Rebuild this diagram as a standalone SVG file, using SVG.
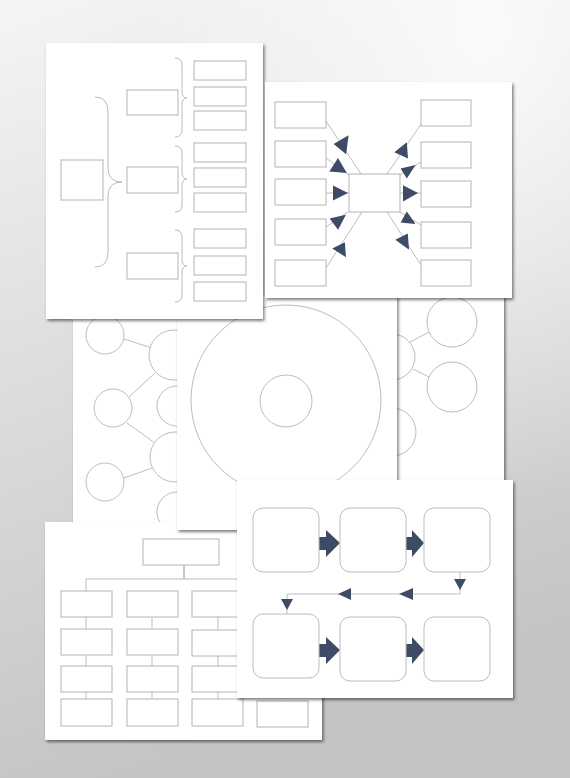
<svg xmlns="http://www.w3.org/2000/svg" width="570" height="778" viewBox="0 0 570 778">
<defs>
<linearGradient id="bg" x1="0" y1="0" x2="0.25" y2="1">
<stop offset="0" stop-color="#f5f5f5"/>
<stop offset="0.45" stop-color="#dedede"/>
<stop offset="1" stop-color="#c4c4c4"/>
</linearGradient>
<radialGradient id="sheen" cx="0.85" cy="0.05" r="0.6">
<stop offset="0" stop-color="#ffffff" stop-opacity="0.8"/>
<stop offset="1" stop-color="#ffffff" stop-opacity="0"/>
</radialGradient>
<filter id="shadow" x="-10%" y="-10%" width="120%" height="120%">
<feDropShadow dx="1.5" dy="2" stdDeviation="1.6" flood-color="#000" flood-opacity="0.5"/>
</filter>
<style>
.sheet{fill:#fff;filter:url(#shadow)}
.box{fill:#fff;stroke:#b4b4b4;stroke-width:1}
.rbox{fill:#fff;stroke:#bdbdbd;stroke-width:1}
.ln{fill:none;stroke:#bdbdbd;stroke-width:1}
.br{fill:none;stroke:#bcbcbc;stroke-width:1}
.ah{fill:#3e4b65}
.cir{fill:#fff;stroke:#bdbdbd;stroke-width:1}
</style>
</defs>
<rect width="570" height="778" fill="url(#bg)"/>
<rect width="570" height="778" fill="url(#sheen)"/>

<!-- Sheet C: left bubble map -->
<g id="sheet-bubbles-left">
<rect class="sheet" x="73" y="300" width="110" height="222"/>
<g id="bubbles-left-connectors">
<line class="ln" x1="124" y1="339" x2="152" y2="348"/>
<line class="ln" x1="155" y1="373" x2="129" y2="397"/>
<line class="ln" x1="127" y1="423" x2="155" y2="443"/>
<line class="ln" x1="124" y1="478" x2="152" y2="468"/>
</g>
<circle class="cir" cx="105" cy="335" r="19"/>
<circle class="cir" cx="174" cy="355" r="25"/>
<circle class="cir" cx="113" cy="408" r="19"/>
<circle class="cir" cx="177" cy="406" r="20"/>
<circle class="cir" cx="175" cy="457" r="25"/>
<circle class="cir" cx="105" cy="482" r="19"/>
<circle class="cir" cx="177" cy="512" r="20"/>
</g>

<!-- Sheet E: right bubble map -->
<g id="sheet-bubbles-right">
<rect class="sheet" x="397" y="295" width="107" height="195"/>
<g id="bubbles-right-connectors">
<line class="ln" x1="410" y1="342" x2="429" y2="332"/>
<line class="ln" x1="413" y1="369" x2="429" y2="377"/>
</g>
<circle class="cir" cx="392" cy="357" r="23"/>
<circle class="cir" cx="392" cy="432" r="24"/>
<circle class="cir" cx="452" cy="322" r="25"/>
<circle class="cir" cx="452" cy="387" r="25"/>
</g>

<!-- Sheet G: org chart -->
<g id="sheet-orgchart">
<rect class="sheet" x="45" y="522" width="277" height="218"/>
<g id="orgchart-connectors">
<line class="ln" x1="184" y1="565" x2="184" y2="579" style="stroke:#8a8a8a"/>
<polyline class="ln" points="86,591 86,579 300,579"/>
<line class="ln" x1="86" y1="617" x2="86" y2="629"/>
<line class="ln" x1="86" y1="655" x2="86" y2="666"/>
<line class="ln" x1="86" y1="692" x2="86" y2="699"/>
<line class="ln" x1="152" y1="617" x2="152" y2="629"/>
<line class="ln" x1="152" y1="655" x2="152" y2="666"/>
<line class="ln" x1="152" y1="692" x2="152" y2="699"/>
<line class="ln" x1="218" y1="617" x2="218" y2="629"/>
<line class="ln" x1="218" y1="655" x2="218" y2="666"/>
<line class="ln" x1="218" y1="692" x2="218" y2="699"/>
<line class="ln" x1="283" y1="690" x2="283" y2="699"/>
</g>
<rect id="org-top" class="box" x="143" y="539" width="76" height="26"/>
<rect id="org-c1r1" class="box" x="61" y="591" width="51" height="26"/>
<rect id="org-c1r2" class="box" x="61" y="629" width="51" height="26"/>
<rect id="org-c1r3" class="box" x="61" y="666" width="51" height="26"/>
<rect id="org-c1r4" class="box" x="61" y="699" width="51" height="27"/>
<rect id="org-c2r1" class="box" x="127" y="591" width="51" height="26"/>
<rect id="org-c2r2" class="box" x="127" y="629" width="51" height="26"/>
<rect id="org-c2r3" class="box" x="127" y="666" width="51" height="26"/>
<rect id="org-c2r4" class="box" x="127" y="699" width="51" height="27"/>
<rect id="org-c3r1" class="box" x="192" y="591" width="51" height="26"/>
<rect id="org-c3r2" class="box" x="192" y="630" width="51" height="26"/>
<rect id="org-c3r3" class="box" x="192" y="666" width="51" height="26"/>
<rect id="org-c3r4" class="box" x="192" y="699" width="51" height="27"/>
<rect id="org-c4r4" class="box" x="257" y="701" width="51" height="26"/>
</g>

<!-- Sheet D: concentric circles -->
<g id="sheet-circles">
<rect class="sheet" x="177" y="295" width="220" height="235"/>
<circle id="outer-circle" class="cir" cx="286" cy="400" r="95"/>
<circle id="inner-circle" class="cir" cx="286" cy="401" r="26"/>
</g>

<!-- Sheet A: bracket diagram -->
<g id="sheet-brackets">
<rect class="sheet" x="46" y="43" width="217" height="276"/>
<g id="brackets-connectors">
<path class="br" d="M95,97 Q108,97 108,112 L108,168 Q108,182 122,182 Q108,182 108,196 L108,252 Q108,267 95,267"/>
<path class="br" d="M175,58 Q182,58 182,65 L182,91 Q182,98 187,98 Q182,98 182,105 L182,130 Q182,137 175,137"/>
<path class="br" d="M175,146 Q182,146 182,153 L182,172 Q182,179 187,179 Q182,179 182,186 L182,205 Q182,212 175,212"/>
<path class="br" d="M175,230 Q182,230 182,237 L182,259 Q182,266 187,266 Q182,266 182,273 L182,295 Q182,302 175,302"/>
</g>
<rect id="br-root" class="box" x="61" y="160" width="42" height="40"/>
<rect id="br-mid1" class="box" x="127" y="90" width="51" height="25"/>
<rect id="br-mid2" class="box" x="127" y="167" width="51" height="26"/>
<rect id="br-mid3" class="box" x="127" y="253" width="51" height="26"/>
<rect id="br-r1" class="box" x="194" y="61" width="52" height="19"/>
<rect id="br-r2" class="box" x="194" y="87" width="52" height="19"/>
<rect id="br-r3" class="box" x="194" y="111" width="52" height="19"/>
<rect id="br-r4" class="box" x="194" y="143" width="52" height="19"/>
<rect id="br-r5" class="box" x="194" y="168" width="52" height="19"/>
<rect id="br-r6" class="box" x="194" y="193" width="52" height="19"/>
<rect id="br-r7" class="box" x="194" y="229" width="52" height="19"/>
<rect id="br-r8" class="box" x="194" y="256" width="52" height="19"/>
<rect id="br-r9" class="box" x="194" y="282" width="52" height="19"/>
</g>

<!-- Sheet B: spider diagram -->
<g id="sheet-spider">
<rect class="sheet" x="265" y="82" width="247" height="216"/>
<g id="spider-connectors">
<line class="ln" x1="326" y1="121" x2="361" y2="174"/>
<line class="ln" x1="326" y1="158" x2="349" y2="175"/>
<line class="ln" x1="326" y1="193" x2="349" y2="193"/>
<line class="ln" x1="326" y1="227" x2="348" y2="212"/>
<line class="ln" x1="326" y1="268" x2="362" y2="212"/>
<line class="ln" x1="421" y1="124" x2="387" y2="174"/>
<line class="ln" x1="421" y1="162" x2="400" y2="175"/>
<line class="ln" x1="400" y1="193" x2="421" y2="193"/>
<line class="ln" x1="400" y1="212" x2="421" y2="225"/>
<line class="ln" x1="387" y1="212" x2="421" y2="265"/>
<polygon class="ah" points="333.6,144 348.6,135.3 346.1,154.3"/>
<polygon class="ah" points="338,157.9 329.3,171.6 346.8,172.9"/>
<polygon class="ah" points="333,185.5 333,200.5 348,193"/>
<polygon class="ah" points="329.6,218.5 345.9,214.8 338.1,229.8"/>
<polygon class="ah" points="332.3,248.5 344.8,242.2 346,257.2"/>
<polygon class="ah" points="394.3,152.3 406.8,142.3 408,158.5"/>
<polygon class="ah" points="400.6,168.6 415.6,164.9 406.8,178.6"/>
<polygon class="ah" points="403,185.2 403,201.4 418,192.9"/>
<polygon class="ah" points="406.8,211.4 400.6,222.6 415.6,223.9"/>
<polygon class="ah" points="395.3,239.8 407.8,233.5 409,249.8"/>
</g>
<rect id="sp-center" class="box" x="349" y="174" width="51" height="38"/>
<rect id="sp-l1" class="box" x="275" y="102" width="51" height="26"/>
<rect id="sp-l2" class="box" x="275" y="141" width="51" height="26"/>
<rect id="sp-l3" class="box" x="275" y="179" width="51" height="26"/>
<rect id="sp-l4" class="box" x="275" y="219" width="51" height="26"/>
<rect id="sp-l5" class="box" x="275" y="260" width="51" height="26"/>
<rect id="sp-r1" class="box" x="421" y="100" width="50" height="26"/>
<rect id="sp-r2" class="box" x="421" y="142" width="50" height="26"/>
<rect id="sp-r3" class="box" x="421" y="181" width="50" height="26"/>
<rect id="sp-r4" class="box" x="421" y="222" width="50" height="26"/>
<rect id="sp-r5" class="box" x="421" y="260" width="50" height="26"/>
</g>

<!-- Sheet F: process flow -->
<g id="sheet-flow">
<rect class="sheet" x="237" y="480" width="276" height="218"/>
<g id="flow-connectors">
<polygon class="ah" points="318,537 326,537 326,530 340,543 326,557 326,550 318,550"/>
<polygon class="ah" points="405,537 412,537 412,530 424,543 412,557 412,550 405,550"/>
<polygon class="ah" points="318,644 326,644 326,637 340,650 326,664 326,657 318,657"/>
<polygon class="ah" points="405,644 412,644 412,637 424,650 412,664 412,657 405,657"/>
<polyline class="ln" points="460,572 460,594 287,594 287,614"/>
<polygon class="ah" points="454,579 466,579 460,590"/>
<polygon class="ah" points="413,588 413,600 399,594"/>
<polygon class="ah" points="351,588 351,600 338,594"/>
<polygon class="ah" points="281,599 293,599 287,610"/>
</g>
<rect id="fl-1" class="rbox" x="253" y="508" width="66" height="64" rx="10"/>
<rect id="fl-2" class="rbox" x="340" y="508" width="66" height="64" rx="10"/>
<rect id="fl-3" class="rbox" x="424" y="508" width="66" height="64" rx="10"/>
<rect id="fl-4" class="rbox" x="253" y="614" width="66" height="64" rx="10"/>
<rect id="fl-5" class="rbox" x="340" y="617" width="66" height="64" rx="10"/>
<rect id="fl-6" class="rbox" x="424" y="617" width="66" height="64" rx="10"/>
</g>
</svg>
